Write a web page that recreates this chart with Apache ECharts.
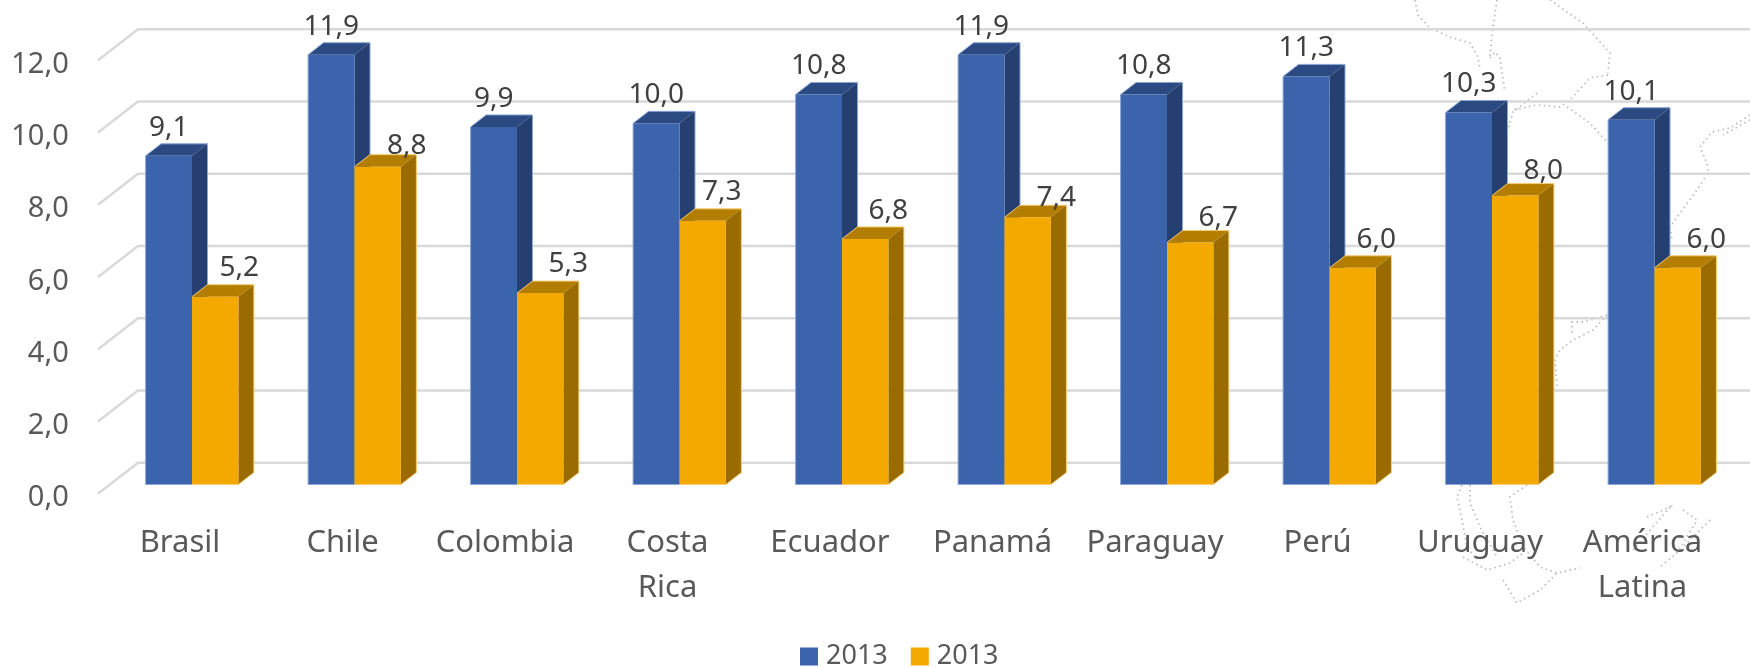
<!DOCTYPE html>
<html>
<head>
<meta charset="utf-8">
<style>
html, body { margin: 0; padding: 0; background: #fff; }
#chart { width: 1750px; height: 667px; }
</style>
<script src="https://cdn.jsdelivr.net/npm/echarts@6/dist/echarts.min.js"></script>
</head>
<body>
<div id="chart"></div>
<script>
var categories = ['Brasil', 'Chile', 'Colombia', 'Costa\nRica', 'Ecuador', 'Panamá', 'Paraguay', 'Perú', 'Uruguay', 'América\nLatina'];
var seriesBlue = [9.1, 11.9, 9.9, 10.0, 10.8, 11.9, 10.8, 11.3, 10.3, 10.1];
var seriesOrange = [5.2, 8.8, 5.3, 7.3, 6.8, 7.4, 6.7, 6.0, 8.0, 6.0];
var yTicks = [0, 2, 4, 6, 8, 10, 12];

var FONT = '"Noto Sans", sans-serif';
var BAR_W = 46.4, DEPTH_X = 15.5, DEPTH_Y = 12;

//rotulos movidos a mano en el original
var orangeLabelMove = [[24, -29], [29, -21], [28, -28.7], [19, -28.7], [23, -28], [28.5, -19.7], [28, -24], [23.5, -28], [28, -25], [28.5, -28]];

//mapa de fondo, solo decorativo
var mapTrazos = [
    [[1415, 0], [1418, 15], [1430, 28], [1450, 37], [1470, 43], [1478, 57], [1480, 70]],
    [[1490, 58], [1495, 52], [1500, 58], [1503, 80], [1505, 92]],
    [[1497, 0], [1492, 33], [1490, 57]],
    [[1550, 0], [1583, 23], [1610, 53], [1608, 73]],
    [[1537, 93], [1513, 112], [1507, 133]],
    [[1608, 75], [1590, 78], [1570, 100], [1560, 107], [1537, 105], [1513, 110]],
    [[1567, 107], [1590, 123], [1607, 142]],
    [[1750, 115], [1730, 128], [1712, 132], [1700, 147], [1707, 163], [1708, 173], [1697, 190], [1680, 213], [1670, 227], [1672, 240]],
    [[1750, 120], [1723, 135]],
    [[1607, 315], [1583, 322], [1572, 322], [1572, 333]],
    [[1607, 315], [1593, 330], [1573, 340], [1560, 350], [1555, 360], [1557, 387]],
    [[1462, 485], [1457, 497], [1462, 520], [1467, 547], [1477, 560]],
    [[1470, 485], [1470, 503], [1480, 527], [1497, 557]],
    [[1527, 485], [1510, 497], [1513, 520], [1523, 547], [1540, 567], [1557, 573], [1580, 568]],
    [[1463, 557], [1487, 570], [1510, 563], [1523, 553]],
    [[1503, 580], [1517, 603], [1540, 590], [1557, 573]],
    [[1647, 517], [1670, 507], [1633, 550]],
    [[1683, 510], [1697, 520], [1677, 553], [1660, 567]],
    [[1710, 520], [1683, 547]]
];

function fmt(v) {
    return v.toFixed(1).replace('.', ',');
}

//pared del fondo y diagonal del piso
function renderWall(params, api) {
    var p = api.coord([0, api.value(1)]);
    var yBack = p[1] - 21.8;
    return {
        type: 'polyline',
        silent: true,
        shape: { points: [[98, p[1] + 9.2], [138, yBack], [1750, yBack]] },
        style: { fill: null, stroke: '#d9d9d9', lineWidth: 2.4 }
    };
}

function barRenderer(side, colors, labelMove) {
    return function (params, api) {
        var i = api.value(0), v = api.value(1);
        var top = api.coord([i, v]);
        var base = api.coord([i, 0]);
        var x = top[0] + (side < 0 ? -BAR_W : 0);
        var r = x + BAR_W;
        var move = labelMove ? labelMove[params.dataIndex] : [0, -28];
        //borde claro alrededor de la barra
        var edge = [[x, top[1]], [x + DEPTH_X, top[1] - DEPTH_Y], [r + DEPTH_X, top[1] - DEPTH_Y], [r + DEPTH_X, base[1] - DEPTH_Y], [r, base[1]], [x, base[1]]];
        if (side < 0) {
            edge.push([x, top[1]]);
        }
        return {
            type: 'group',
            children: [
                { type: 'polygon', shape: { points: [[r, top[1]], [r + DEPTH_X, top[1] - DEPTH_Y], [r + DEPTH_X, base[1] - DEPTH_Y], [r, base[1]]] }, style: { fill: colors[2] } },
                { type: 'polygon', shape: { points: [[x, top[1]], [x + DEPTH_X, top[1] - DEPTH_Y], [r + DEPTH_X, top[1] - DEPTH_Y], [r, top[1]]] }, style: { fill: colors[1] } },
                { type: 'rect', shape: { x: x, y: top[1], width: BAR_W, height: base[1] - top[1] }, style: { fill: colors[0] } },
                { type: 'polyline', shape: { points: edge }, style: { fill: null, stroke: colors[3], lineWidth: 1 } },
                {
                    type: 'text',
                    z2: 100,
                    x: x + BAR_W / 2 + move[0],
                    y: top[1] + move[1],
                    style: { text: fmt(v), font: '28px ' + FONT, fill: '#404040', textAlign: 'center', textVerticalAlign: 'middle' }
                }
            ]
        };
    };
}

var chart = echarts.init(document.getElementById('chart'));
chart.setOption({
    backgroundColor: '#fff',
    animation: false,
    graphic: mapTrazos.map(function (pts) {
        return {
            type: 'polyline',
            silent: true,
            z: 0,
            shape: { points: pts },
            style: { fill: null, stroke: '#bdbdbd', lineWidth: 1.8, lineDash: [1.5, 3.5] }
        };
    }),
    legend: {
        data: [{ name: '2013' }, { name: '2013 ' }],
        left: 800,
        top: 643,
        padding: 0,
        icon: 'rect',
        itemWidth: 18,
        itemHeight: 18,
        itemGap: 23,
        itemStyle: { borderWidth: 0 },
        selectedMode: false,
        formatter: function (name) { return name.trim(); },
        textStyle: { fontFamily: FONT, fontSize: 27, color: '#595959', padding: [0, 0, 0, 3] }
    },
    grid: { left: 110.75, top: 51.1, width: 1625, height: 433.4 },
    xAxis: {
        type: 'category',
        data: categories,
        axisLine: { show: false },
        axisTick: { show: false },
        axisLabel: {
            interval: 0,
            margin: 36,
            padding: [0, 24, 0, 0],
            fontFamily: FONT,
            fontSize: 31,
            lineHeight: 45,
            color: '#595959'
        }
    },
    yAxis: {
        type: 'value',
        min: 0,
        max: 12,
        interval: 2,
        axisLine: { show: false },
        axisTick: { show: false },
        splitLine: { show: false },
        axisLabel: {
            margin: 42,
            verticalAlign: 'top',
            lineHeight: 27,
            fontFamily: FONT,
            fontSize: 29,
            color: '#595959',
            formatter: fmt
        }
    },
    series: [
        {
            type: 'custom',
            name: 'wall',
            renderItem: renderWall,
            silent: true,
            data: yTicks.map(function (t) { return [0, t]; }),
            encode: { x: 0, y: 1 }
        },
        {
            type: 'custom',
            name: '2013',
            renderItem: barRenderer(-1, ['#3b64ad', '#2c4a82', '#253f70', '#8aa5d6'], null),
            itemStyle: { color: '#3b64ad' },
            data: seriesBlue.map(function (v, i) { return [i, v]; }),
            encode: { x: 0, y: 1 }
        },
        {
            type: 'custom',
            name: '2013 ',
            renderItem: barRenderer(1, ['#f4a900', '#b37d00', '#996b00', '#f6cd72'], orangeLabelMove),
            itemStyle: { color: '#f4a900' },
            data: seriesOrange.map(function (v, i) { return [i, v]; }),
            encode: { x: 0, y: 1 }
        }
    ]
});
</script>
</body>
</html>
